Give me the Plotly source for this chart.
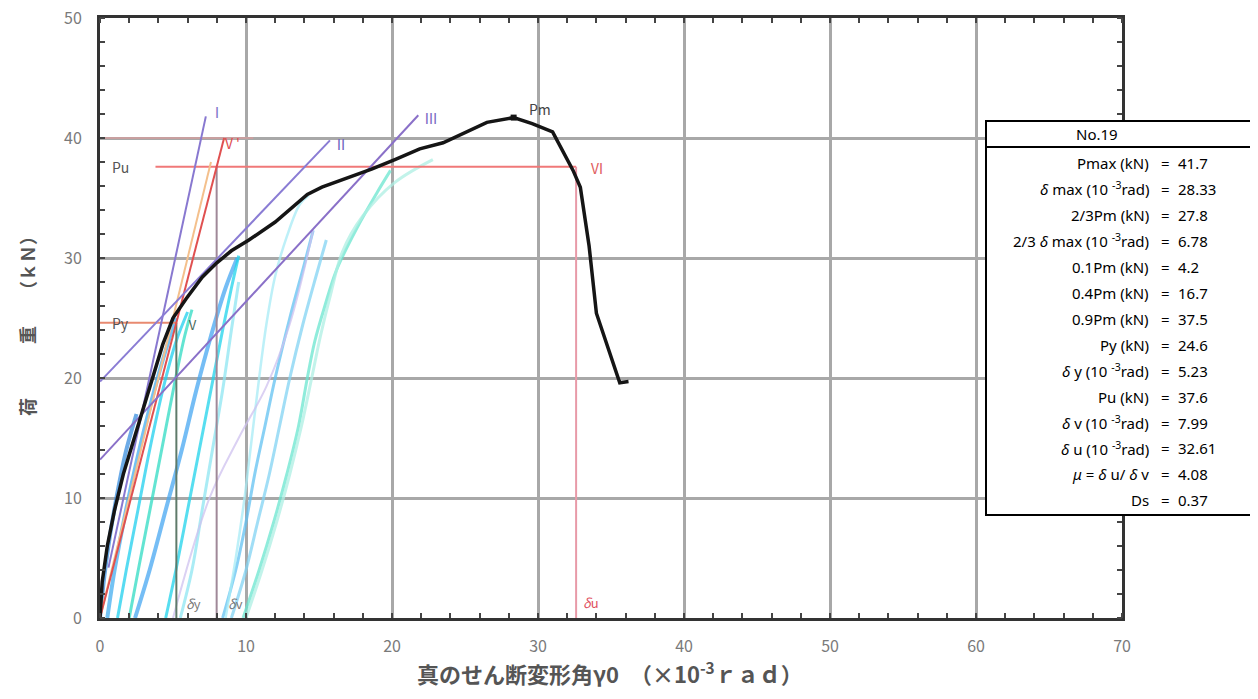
import plotly.graph_objects as go

# ---------------- data ----------------
# skeleton (envelope) curve: shear deformation angle (1e-3 rad) vs load (kN)
env_x = [0.0, 0.15, 0.5, 1.0, 1.6, 2.3, 3.0, 3.6, 4.3, 5.0, 5.9, 7.0, 8.0, 9.0, 10.2,
         12.0, 14.2, 15.2, 17.0, 18.6, 20.2, 21.9, 23.5, 24.7, 26.5, 28.33, 29.6,
         31.0, 32.4, 32.9, 33.5, 34.0, 35.1, 35.6, 36.2]
env_y = [0.0, 3.0, 6.0, 9.0, 12.0, 14.8, 17.6, 20.2, 22.8, 25.0, 26.6, 28.4, 29.6,
         30.6, 31.5, 33.0, 35.3, 35.9, 36.7, 37.4, 38.2, 39.1, 39.6, 40.3, 41.3,
         41.7, 41.2, 40.5, 37.3, 35.9, 31.0, 25.4, 21.5, 19.6, 19.7]

# reloading curves of the cyclic loops
loops_x = [
    [0.0, 0.3, 0.7, 1.2, 1.8, 2.5],
    [0.5, 1.0, 1.7, 2.5, 3.4, 4.3, 5.2],
    [1.2, 1.8, 2.6, 3.4, 4.3, 5.2, 6.0],
    [2.0, 2.7, 3.5, 4.3, 5.1, 5.8, 6.3],
    [2.4, 3.4, 4.5, 5.6, 6.6, 7.6, 8.6, 9.4],
    [4.5, 5.2, 6.0, 6.8, 7.6, 8.4, 9.0, 9.5],
    [5.5, 6.3, 7.0, 7.7, 8.4, 9.0, 9.5],
    [8.4, 9.3, 10.0, 10.6, 11.3, 12.0, 13.0, 14.0, 14.6],
    [9.0, 10.0, 10.8, 11.6, 12.3, 13.0, 13.9, 14.8, 15.5],
    [8.6, 9.3, 9.9, 10.4, 10.9, 11.4, 12.0, 12.8, 13.7, 14.3],
    [9.8, 10.9, 11.9, 12.8, 13.6, 14.2, 14.7, 15.4, 16.2, 17.6, 19.0, 19.9],
    [10.0, 11.1, 12.1, 13.0, 13.8, 14.5, 15.1, 15.8, 16.6, 18.0, 20.2, 22.8],
    [5.0, 7.5, 9.5, 11.4, 13.0, 14.6],
]
loops_y = [
    [0.0, 3.5, 7.0, 10.5, 14.0, 17.0],
    [0.0, 4.0, 8.5, 13.0, 17.5, 21.5, 25.0],
    [0.0, 4.0, 9.0, 14.0, 19.0, 23.0, 25.5],
    [0.0, 4.5, 9.5, 14.5, 19.5, 23.5, 25.7],
    [0.0, 4.0, 9.0, 14.0, 19.0, 23.5, 27.5, 30.0],
    [0.0, 4.0, 9.0, 14.0, 19.0, 24.0, 27.5, 30.2],
    [0.0, 4.0, 9.0, 14.0, 19.0, 24.0, 28.0],
    [0.0, 4.0, 8.0, 12.0, 16.0, 20.0, 25.0, 29.5, 32.3],
    [0.0, 4.0, 8.0, 12.0, 16.0, 20.0, 24.5, 28.5, 31.5],
    [0.0, 5.0, 10.0, 15.0, 20.0, 24.5, 28.5, 31.8, 34.5, 35.2],
    [0.0, 4.0, 8.0, 12.0, 16.0, 20.0, 23.0, 26.0, 29.0, 32.5, 35.5, 37.3],
    [0.0, 4.0, 8.0, 12.0, 16.0, 20.0, 23.5, 27.0, 30.5, 33.5, 36.3, 38.2],
    [0.0, 10.0, 15.0, 19.3, 24.5, 32.3],
]

# evaluation lines I, II, III (end points)
line1_x = [0.58, 7.25]
line1_y = [4.2, 41.8]
line2_x = [0.0, 15.75]
line2_y = [19.7, 39.8]
line3_x = [0.0, 21.8]
line3_y = [13.2, 41.9]
lineV_x = [0.0, 8.5]
lineV_y = [0.0, 40.0]
lineO_x = [0.0, 7.6]
lineO_y = [0.0, 38.0]

# characteristic values
specimen = "No.19"
Pmax = 41.7
d_max = 28.33
Py = 24.6
d_y = 5.23
Pu = 37.6
d_v = 7.99
d_u = 32.61

table_labels = [
    "Pmax (kN)",
    "<i>δ</i> max (10 <sup>-3</sup>rad)",
    "2/3Pm (kN)",
    "2/3 <i>δ</i> max (10 <sup>-3</sup>rad)",
    "0.1Pm (kN)",
    "0.4Pm (kN)",
    "0.9Pm (kN)",
    "Py (kN)",
    "<i>δ</i> y (10 <sup>-3</sup>rad)",
    "Pu (kN)",
    "<i>δ</i> v (10 <sup>-3</sup>rad)",
    "<i>δ</i> u (10 <sup>-3</sup>rad)",
    "<i>μ</i> = <i>δ</i> u/ <i>δ</i> v",
    "Ds",
]
table_values = ["41.7", "28.33", "27.8", "6.78", "4.2", "16.7", "37.5",
                "24.6", "5.23", "37.6", "7.99", "32.61", "4.08", "0.37"]

x_ticks = [0, 10, 20, 30, 40, 50, 60, 70]
y_ticks = [0, 10, 20, 30, 40, 50]

# ---------------- styles ----------------
loop_colors = ["#3b8fe0", "#45aef0", "#1fd0ee", "#30dcc4", "#48a8f2", "#20d4ec",
               "#8ee6f2", "#62c2f2", "#82d4f4", "#a8ecf6", "#6ae6d0", "#aef0e4",
               "#cfc2f0"]
loop_widths = [4, 4, 3, 3, 4, 3, 3, 3, 3, 2.5, 3, 3, 2]

FONT = "Noto Sans CJK JP"
# plot-area edges in the reference picture (pixels)
L, R, T, B = 100, 1122, 18, 618
PAGE = 8            # default page margin of the html body
W, H = 1250, 683    # figure size


def px(x):
    return (x - L) / (R - L)


def py(y):
    return (B - y) / (B - T)


fig = go.Figure()

# faint helper line
fig.add_trace(go.Scatter(x=[0, 10.5], y=[40, 40], mode="lines",
                         line=dict(color="rgba(240,150,150,0.45)", width=2), hoverinfo="skip"))

for xs, ys, c, w in zip(loops_x, loops_y, loop_colors, loop_widths):
    fig.add_trace(go.Scatter(x=xs, y=ys, mode="lines", line=dict(color=c, width=w, shape="spline"),
                             opacity=0.75, hoverinfo="skip"))

# construction lines
fig.add_trace(go.Scatter(x=[0, d_y], y=[Py, Py], mode="lines",
                         line=dict(color="#e88a70", width=2), hoverinfo="skip"))
fig.add_trace(go.Scatter(x=[3.8, d_u], y=[Pu, Pu], mode="lines",
                         line=dict(color="#f07878", width=2), hoverinfo="skip"))
fig.add_trace(go.Scatter(x=[d_y, d_y], y=[0, Py], mode="lines",
                         line=dict(color="#5f7a6a", width=2), hoverinfo="skip"))
fig.add_trace(go.Scatter(x=[d_v, d_v], y=[0, Pu], mode="lines",
                         line=dict(color="#a08898", width=2), hoverinfo="skip"))
fig.add_trace(go.Scatter(x=[d_u, d_u], y=[0, Pu], mode="lines",
                         line=dict(color="#e89aa8", width=2), hoverinfo="skip"))
fig.add_trace(go.Scatter(x=lineO_x, y=lineO_y, mode="lines",
                         line=dict(color="#f4c08c", width=2), hoverinfo="skip"))
fig.add_trace(go.Scatter(x=lineV_x, y=lineV_y, mode="lines",
                         line=dict(color="#e05050", width=2), hoverinfo="skip"))
fig.add_trace(go.Scatter(x=line1_x, y=line1_y, mode="lines",
                         line=dict(color="#8878d0", width=2), hoverinfo="skip"))
fig.add_trace(go.Scatter(x=line2_x, y=line2_y, mode="lines",
                         line=dict(color="#8a7cd4", width=2), hoverinfo="skip"))
fig.add_trace(go.Scatter(x=line3_x, y=line3_y, mode="lines",
                         line=dict(color="#8a70c8", width=2), hoverinfo="skip"))

# envelope
fig.add_trace(go.Scatter(x=env_x, y=env_y, mode="lines",
                         line=dict(color="#151515", width=3.5), hoverinfo="skip"))
fig.add_trace(go.Scatter(x=[d_max], y=[Pmax], mode="markers",
                         marker=dict(color="#151515", size=6, symbol="square"), hoverinfo="skip"))


# labels on the plot
def lab(x, y, text, color, size=14):
    fig.add_annotation(x=x, y=y, xref="x", yref="y", text=text, showarrow=False,
                       font=dict(family=FONT, size=size, color=color))


lab(1.4, Pu, "Pu", "#555555")
lab(1.4, Py, "Py", "#555555")
lab(d_max + 1.8, Pmax + 0.7, "Pm", "#444444")
lab(line1_x[1] + 0.75, line1_y[1] + 0.4, "Ⅰ", "#7c70c8")
lab(lineV_x[1] + 0.5, lineV_y[1] - 0.4, "Ⅴ'", "#e05050")
lab(line2_x[1] + 0.75, line2_y[1] - 0.3, "Ⅱ", "#6c64c0")
lab(line3_x[1] + 0.9, line3_y[1] - 0.2, "Ⅲ", "#7a68c4")
lab(d_u + 1.4, Pu - 0.1, "Ⅵ", "#e06060")
lab(d_y + 1.1, Py - 0.1, "Ⅴ", "#4a6a5a", 13)
lab(d_y + 1.2, 1.2, "<i>δ</i>y", "#777777", 13)
lab(d_v + 1.3, 1.2, "<i>δ</i>v", "#777777", 13)
lab(d_u + 1.0, 1.3, "<i>δ</i>u", "#e05060", 13)

# axis titles
fig.add_annotation(xref="paper", yref="paper", x=px(610), y=py(672), yanchor="middle",
                   text="真のせん断変形角γ0　（×10<sup>-3</sup>ｒａｄ）", showarrow=False,
                   font=dict(family=FONT, size=22, color="#555555", weight="bold"))
fig.add_annotation(xref="paper", yref="paper", x=px(27), y=py(322), xanchor="center",
                   yanchor="middle", textangle=-90,
                   text="荷　　　重　　（ｋＮ）", showarrow=False,
                   font=dict(family=FONT, size=18, color="#555555", weight="bold"))

# table box
bx0, bx1, by_top, by_bot, by_head = 986, 1253, 121, 515, 147
fig.add_shape(type="rect", xref="paper", yref="paper", x0=px(bx0), x1=px(bx1),
              y0=py(by_bot), y1=py(by_top), line=dict(color="black", width=2),
              fillcolor="white", layer="above")
fig.add_shape(type="line", xref="paper", yref="paper", x0=px(bx0), x1=px(bx1),
              y0=py(by_head), y1=py(by_head), line=dict(color="black", width=2), layer="above")
TFONT = dict(family="Noto Sans", size=15, color="black")
fig.add_annotation(xref="paper", yref="paper", x=px(1120), y=py(134), text=specimen,
                   showarrow=False, font=TFONT, yanchor="middle")
for i, (lbl, val) in enumerate(zip(table_labels, table_values)):
    yy = py(163 + i * 25.95)
    fig.add_annotation(xref="paper", yref="paper", x=px(1151), y=yy, text=lbl,
                       xanchor="right", yanchor="middle", showarrow=False, font=TFONT)
    fig.add_annotation(xref="paper", yref="paper", x=px(1165), y=yy, text="=",
                       xanchor="center", yanchor="middle", showarrow=False, font=TFONT)
    fig.add_annotation(xref="paper", yref="paper", x=px(1176), y=yy, text=val,
                       xanchor="left", yanchor="middle", showarrow=False, font=TFONT)

axis_common = dict(showgrid=True, gridcolor="#a8a8a8", gridwidth=2.5, zeroline=False,
                   showline=True, mirror="allticks", linecolor="#333333", linewidth=3,
                   ticks="", tickfont=dict(family=FONT, size=16, color="#7a7a7a"),
                   ticklabeloverflow="allow",
                   minor=dict(ticks="inside", ticklen=5, tickwidth=2, tickcolor="#444444",
                              dtick=2, showgrid=False))
fig.update_xaxes(range=[0, 70], tickvals=x_ticks, ticklabelstandoff=12, **axis_common)
fig.update_yaxes(range=[0, 50], tickvals=y_ticks, ticklabelstandoff=12, **axis_common)

fig.update_layout(width=W, height=H, showlegend=False, plot_bgcolor="white",
                  paper_bgcolor="white",
                  margin=dict(l=L - PAGE, r=W - (R - PAGE), t=T - PAGE, b=H - (B - PAGE),
                              autoexpand=False))

fig.write_html("out.html")
